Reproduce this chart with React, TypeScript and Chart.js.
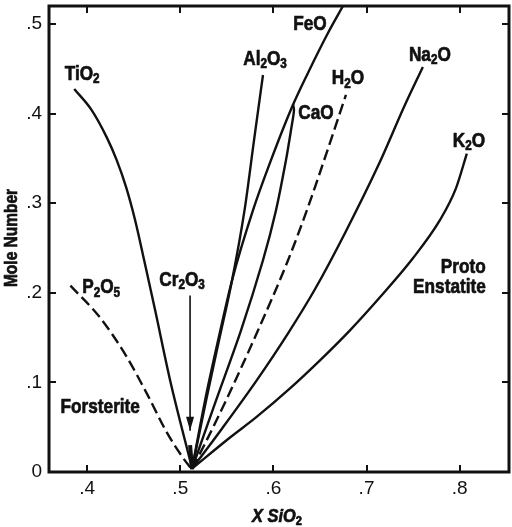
import { useEffect, useRef } from "react";
import { Chart, registerables } from "chart.js";

Chart.register(...registerables);

// axis ranges & ticks
const xMin = 0.359;
const xMax = 0.853;
const yMin = 0;
const yMax = 0.52;
const xTicks = [0.4, 0.5, 0.6, 0.7, 0.8];
const yTicks = [0, 0.1, 0.2, 0.3, 0.4, 0.5];

// curves (X SiO2 vs mole number)
const tio2X = [0.3861, 0.4048, 0.4209, 0.4317, 0.4418, 0.4515, 0.4612, 0.473, 0.4891, 0.5127];
const tio2Y = [0.4274, 0.4039, 0.3737, 0.348, 0.3179, 0.281, 0.2363, 0.1804, 0.1022, 0.0039];

const p2o5X = [0.382, 0.414, 0.4418, 0.4654, 0.4858, 0.5031, 0.5116];
const p2o5Y = [0.208, 0.1721, 0.1296, 0.0849, 0.0436, 0.0156, 0.0039];

const al2o3X = [0.5888, 0.5792, 0.569, 0.5556, 0.5416, 0.5277, 0.5127];
const al2o3Y = [0.443, 0.3704, 0.2922, 0.214, 0.1469, 0.0799, 0.0039];

const feoX = [0.6747, 0.6586, 0.6371, 0.62, 0.5974, 0.5781, 0.5556, 0.5406, 0.5266, 0.5127];
const feoY = [0.52, 0.4899, 0.4453, 0.4073, 0.348, 0.2922, 0.214, 0.1469, 0.0799, 0.0039];

const caoX = [0.5127, 0.5384, 0.5652, 0.5888, 0.6028, 0.6135, 0.6189, 0.6221, 0.621];
const caoY = [0.0039, 0.0799, 0.1581, 0.2363, 0.2922, 0.348, 0.3816, 0.4039, 0.4106];

const h2oX = [0.5127, 0.5266, 0.5491, 0.5835, 0.6157, 0.6371, 0.6779];
const h2oY = [0.0039, 0.0318, 0.0799, 0.1581, 0.2363, 0.2955, 0.4207];

const na2oX = [0.5127, 0.5449, 0.5813, 0.6157, 0.6446, 0.6768, 0.7133, 0.7412, 0.7605];
const na2oY = [0.0039, 0.0486, 0.1011, 0.1547, 0.2039, 0.2665, 0.3436, 0.4095, 0.452];

const k2oX = [0.5127, 0.5534, 0.5813, 0.6178, 0.65, 0.6822, 0.7144, 0.7498, 0.7788, 0.7959, 0.8077];
const k2oY = [0.0039, 0.0385, 0.0609, 0.0933, 0.1246, 0.1581, 0.195, 0.2385, 0.281, 0.3162, 0.3553];

const cr2o3X = [0.5105, 0.5127];
const cr2o3Y = [0.03, 0.003];

const arrowX = [0.5105, 0.5105];
const arrowY = [0.197, 0.046];

// annotation labels ({n} = subscript)
const labelText = ["TiO{2}", "P{2}O{5}", "Cr{2}O{3}", "Al{2}O{3}", "FeO", "CaO", "H{2}O", "Na{2}O", "K{2}O", "Proto", "Enstatite", "Forsterite"];
const labelX = [0.3946, 0.415, 0.5019, 0.591, 0.6393, 0.6457, 0.68, 0.768, 0.81, 0.8281, 0.8281, 0.414];
const labelY = [0.4464, 0.208, 0.2162, 0.463, 0.502, 0.4028, 0.441, 0.4676, 0.3715, 0.2307, 0.2078, 0.0743];
const labelAlign = ["center", "center", "center", "center", "center", "center", "center", "center", "center", "right", "right", "center"];

const FONT = "'Liberation Sans', Arial, sans-serif";

const pts = (xs: number[], ys: number[]) => xs.map((x, i) => ({ x, y: ys[i] }));

function parseRich(t: string) {
  const segs: { s: string; sub: boolean }[] = [];
  const re = /\{([^}]*)\}|([^{]+)/g;
  let m: RegExpExecArray | null;
  while ((m = re.exec(t))) {
    if (m[1] !== undefined) segs.push({ s: m[1], sub: true });
    else segs.push({ s: m[2], sub: false });
  }
  return segs;
}

function drawRich(
  ctx: CanvasRenderingContext2D,
  t: string,
  x: number,
  yCenter: number,
  align: string,
  size: number,
  sx = 0.82,
  italicFirst = false
) {
  const segs = parseRich(t);
  const subSize = size * 0.68;
  const fontOf = (i: number, sub: boolean) =>
    `${italicFirst && i === 0 ? "italic " : ""}bold ${sub ? subSize : size}px ${FONT}`;
  const widths = segs.map((sg, i) => {
    ctx.font = fontOf(i, sg.sub);
    return ctx.measureText(sg.s).width * sx;
  });
  const total = widths.reduce((a, b) => a + b, 0);
  let cx = align === "center" ? x - total / 2 : align === "right" ? x - total : x;
  const baseline = yCenter + size * 0.36;
  ctx.textAlign = "left";
  ctx.textBaseline = "alphabetic";
  ctx.fillStyle = "#111";
  ctx.strokeStyle = "#111";
  ctx.lineWidth = 0.7;
  ctx.lineJoin = "round";
  segs.forEach((sg, i) => {
    ctx.font = fontOf(i, sg.sub);
    ctx.save();
    ctx.translate(cx, sg.sub ? baseline + size * 0.16 : baseline);
    ctx.scale(sx, 1);
    ctx.fillText(sg.s, 0, 0);
    ctx.strokeText(sg.s, 0, 0);
    ctx.restore();
    cx += widths[i];
  });
}

const decor = {
  id: "decor",
  afterDraw(chart: any) {
    const { ctx, chartArea: a, scales } = chart;
    const xs = scales.x;
    const ys = scales.y;
    ctx.save();
    // frame
    ctx.strokeStyle = "#111";
    ctx.lineWidth = 3;
    ctx.strokeRect(a.left, a.top, a.right - a.left, a.bottom - a.top);
    // inward ticks
    ctx.lineWidth = 2;
    const tl = 7;
    ctx.beginPath();
    xTicks.forEach((v) => {
      const px = Math.round(xs.getPixelForValue(v));
      ctx.moveTo(px, a.bottom);
      ctx.lineTo(px, a.bottom - tl);
      ctx.moveTo(px, a.top);
      ctx.lineTo(px, a.top + tl);
    });
    yTicks.forEach((v) => {
      if (v === 0) return;
      const py = Math.round(ys.getPixelForValue(v));
      ctx.moveTo(a.left, py);
      ctx.lineTo(a.left + tl, py);
      ctx.moveTo(a.right, py);
      ctx.lineTo(a.right - tl, py);
    });
    ctx.stroke();
    // Cr2O3 arrow head
    const tipX = xs.getPixelForValue(arrowX[1]);
    const tipY = ys.getPixelForValue(arrowY[1]);
    ctx.fillStyle = "#111";
    ctx.beginPath();
    ctx.moveTo(tipX, tipY);
    ctx.lineTo(tipX - 4, tipY - 14);
    ctx.lineTo(tipX + 4, tipY - 14);
    ctx.closePath();
    ctx.fill();
    // labels
    labelText.forEach((t, i) => {
      drawRich(ctx, t, xs.getPixelForValue(labelX[i]), ys.getPixelForValue(labelY[i]), labelAlign[i], 21);
    });
    // axis titles
    drawRich(ctx, "X SiO{2}", (a.left + a.right) / 2 - 2, a.bottom + 43, "center", 19, 0.86, true);
    ctx.save();
    ctx.translate(11, (a.top + a.bottom) / 2 - 1);
    ctx.rotate(-Math.PI / 2);
    drawRich(ctx, "Mole Number", 0, 0, "center", 18, 0.86);
    ctx.restore();
    ctx.restore();
  },
};

function fmt(v: number) {
  if (Math.abs(v) < 1e-9) return "0";
  return v.toFixed(1).replace(/^0/, "");
}

export default function App() {
  const ref = useRef<HTMLCanvasElement | null>(null);
  useEffect(() => {
    if (!ref.current) return;
    const line = (data: any[], dashed = false, width = 2.4) => ({
      data,
      showLine: true,
      borderColor: "#111",
      borderWidth: width,
      borderDash: dashed ? [11, 5] : [],
      pointRadius: 0,
      cubicInterpolationMode: "monotone",
      fill: false,
    });
    const chart = new Chart(ref.current, {
      type: "scatter",
      data: {
        datasets: [
          line(pts(tio2X, tio2Y)),
          line(pts(p2o5X, p2o5Y), true),
          line(pts(al2o3X, al2o3Y)),
          line(pts(feoX, feoY)),
          { ...line(pts(caoX, caoY)), cubicInterpolationMode: "default", tension: 0.3 },
          line(pts(h2oX, h2oY), true),
          line(pts(na2oX, na2oY)),
          line(pts(k2oX, k2oY)),
          { ...line(pts(cr2o3X, cr2o3Y), false, 4), cubicInterpolationMode: "default", tension: 0 },
          { ...line(pts(arrowX, arrowY), false, 1.6), cubicInterpolationMode: "default", tension: 0 },
        ] as any,
      },
      options: {
        animation: false,
        responsive: true,
        maintainAspectRatio: false,
        layout: { padding: { top: 6, right: 3, left: 0, bottom: 0 } },
        plugins: { legend: { display: false }, tooltip: { enabled: false } },
        scales: {
          x: {
            type: "linear",
            min: xMin,
            max: xMax,
            afterBuildTicks: (s: any) => {
              s.ticks = xTicks.map((v) => ({ value: v }));
            },
            afterFit: (s: any) => {
              s.height = 55;
              s.paddingLeft = 0;
              s.paddingRight = 0;
            },
            grid: { display: false, drawTicks: false },
            border: { display: false },
            ticks: {
              padding: 5,
              color: "#111",
              font: { family: FONT, size: 19 },
              callback: (v: any) => fmt(Number(v)),
              maxRotation: 0,
            },
          },
          y: {
            type: "linear",
            min: yMin,
            max: yMax,
            afterBuildTicks: (s: any) => {
              s.ticks = yTicks.map((v) => ({ value: v }));
            },
            afterFit: (s: any) => {
              s.width = 49;
              s.paddingTop = 0;
              s.paddingBottom = 0;
            },
            grid: { display: false, drawTicks: false },
            border: { display: false },
            ticks: {
              padding: 7,
              color: "#111",
              font: { family: FONT, size: 19 },
              callback: (v: any) => fmt(Number(v)),
            },
          },
        },
      },
      plugins: [decor],
    });
    return () => chart.destroy();
  }, []);
  return (
    <div style={{ position: "fixed", left: 0, top: 0, width: 512, height: 527, background: "#fff" }}>
      <canvas ref={ref} />
    </div>
  );
}
